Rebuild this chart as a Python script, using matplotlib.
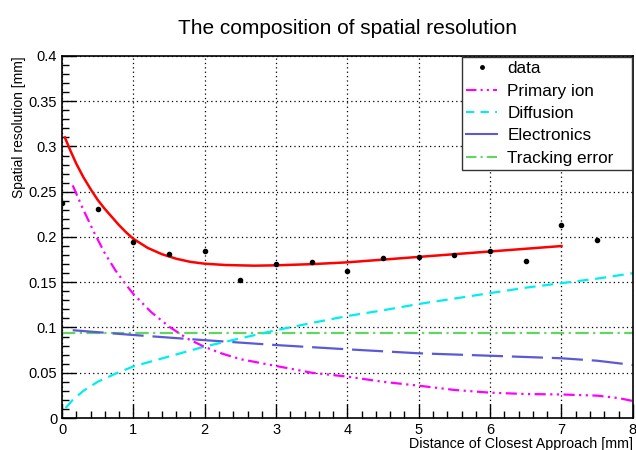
import matplotlib
matplotlib.use("Agg")
import matplotlib.pyplot as plt
from matplotlib.ticker import MultipleLocator, FixedLocator
from matplotlib.lines import Line2D

plt.rcParams['font.family'] = ['Liberation Sans', 'DejaVu Sans']

# data points
data_x = [0, 0.5, 1, 1.5, 2, 2.5, 3, 3.5, 4, 4.5, 5, 5.5, 6, 6.5, 7, 7.5]
data_y = [0.238, 0.231, 0.194, 0.181, 0.184, 0.152, 0.170, 0.172, 0.162,
          0.177, 0.1775, 0.180, 0.1845, 0.173, 0.2136, 0.197]

# total fit curve
fit_x = [0.04, 0.12, 0.2, 0.3, 0.4, 0.5, 0.6, 0.7, 0.8, 0.9, 1.0, 1.2, 1.4, 1.6,
         1.8, 2.0, 2.3, 2.7, 3.0, 3.5, 4.0, 4.5, 5.0, 5.5, 6.0, 6.5, 7.0]
fit_y = [0.310, 0.295, 0.281, 0.266, 0.253, 0.241, 0.231, 0.222, 0.213, 0.205,
         0.198, 0.188, 0.181, 0.176, 0.1725, 0.1705, 0.169, 0.1683, 0.1687,
         0.170, 0.172, 0.175, 0.178, 0.181, 0.184, 0.187, 0.190]

# primary ion
ion_x = [0.15, 0.3, 0.45, 0.6, 0.75, 0.9, 1.0, 1.25, 1.5, 1.75, 2.0, 2.25, 2.5,
         3.0, 3.5, 4.0, 4.5, 5.0, 5.5, 6.0, 6.5, 7.0, 7.5, 7.8, 8.0]
ion_y = [0.257, 0.230, 0.205, 0.182, 0.163, 0.147, 0.137, 0.117, 0.101, 0.088,
         0.0785, 0.071, 0.065, 0.0575, 0.050, 0.0457, 0.040, 0.0357, 0.031,
         0.028, 0.0265, 0.026, 0.0247, 0.022, 0.0188]

# diffusion
dif_x = [0.05, 0.15, 0.3, 0.5, 0.75, 1.0, 1.5, 2.0, 2.5, 3.0, 3.5, 4.0, 4.5, 5.0,
         5.5, 6.0, 6.5, 7.0, 7.5, 8.0]
dif_y = [0.011, 0.020, 0.030, 0.040, 0.049, 0.057, 0.068, 0.079, 0.088, 0.097,
         0.105, 0.1127, 0.119, 0.126, 0.132, 0.138, 0.144, 0.149, 0.154, 0.160]

# electronics
ele_x = [0.15, 1, 2, 3, 4, 5, 6, 7, 7.5, 8]
ele_y = [0.097, 0.0917, 0.086, 0.0806, 0.0759, 0.0715, 0.0688, 0.066, 0.0633, 0.0586]

# tracking error
trk_x = [0, 8]
trk_y = [0.0935, 0.0935]

x_ticks = [0, 1, 2, 3, 4, 5, 6, 7, 8]
y_ticks = [0, 0.05, 0.1, 0.15, 0.2, 0.25, 0.3, 0.35, 0.4]
y_ticklabels = ["0", "0.05", "0.1", "0.15", "0.2", "0.25", "0.3", "0.35", "0.4"]

fig = plt.figure(figsize=(6.36, 4.5), dpi=100)
ax = fig.add_axes([0.0975, 0.0711, 0.8975, 0.8045])

c_ion = '#ff00ff'
c_dif = '#00eeee'
c_ele = '#5a5ad6'
c_trk = '#5fd65f'

ax.plot(trk_x, trk_y, color=c_trk, lw=1.6, ls=(0, (6, 2, 1, 2)))
ax.plot(ele_x, ele_y, color=c_ele, lw=1.6, ls=(0, (14, 4)))
ax.plot(dif_x, dif_y, color=c_dif, lw=1.6, ls=(0, (5, 3)))
ax.plot(ion_x, ion_y, color=c_ion, lw=1.6, ls=(0, (5, 2, 1, 2, 1, 2)))
ax.plot(fit_x, fit_y, color='red', lw=1.8)
ax.plot(data_x, data_y, 'o', color='black', ms=3)

ax.set_xlim(0, 8)
ax.set_ylim(0, 0.4)
ax.xaxis.set_major_locator(FixedLocator(x_ticks))
ax.yaxis.set_major_locator(FixedLocator(y_ticks))
ax.set_yticklabels(y_ticklabels)
ax.xaxis.set_minor_locator(MultipleLocator(0.2))
ax.yaxis.set_minor_locator(MultipleLocator(0.01))
ax.tick_params(which='both', direction='in', top=False, right=False, labelsize=10.5)
ax.tick_params(which='major', length=10, width=1)
ax.tick_params(which='minor', length=5, width=1)
ax.grid(True, which='major', color='black', ls=(0, (1, 2.5)), lw=0.9)
for s in ax.spines.values():
    s.set_linewidth(1.2)

ax.set_title("The composition of spatial resolution", fontsize=15, pad=16)
ax.set_xlabel("Distance of Closest Approach [mm]", fontsize=10.3, loc='right', labelpad=0)
ax.set_ylabel("Spatial resolution [mm]", fontsize=10, loc='top', labelpad=2)

handles = [
    Line2D([], [], marker='o', ls='none', color='black', ms=2.5),
    Line2D([], [], color=c_ion, lw=1.5, ls=(0, (5, 2, 1, 2, 1, 2))),
    Line2D([], [], color=c_dif, lw=1.5, ls=(0, (4, 3))),
    Line2D([], [], color=c_ele, lw=1.5),
    Line2D([], [], color=c_trk, lw=1.5, ls=(0, (5, 2, 1, 2))),
]
labels = ["data", "Primary ion", "Diffusion", "Electronics", "Tracking error"]
leg = ax.legend(handles, labels, loc='upper left', mode='expand',
                bbox_to_anchor=(0.7005, 0.685, 0.2977, 0.312),
                fontsize=12.3, frameon=True, fancybox=False, framealpha=1,
                edgecolor='#333333', handlelength=1.8, borderpad=0.25,
                labelspacing=0.43, handletextpad=0.6, borderaxespad=0)
leg.get_frame().set_linewidth(1.0)

fig.savefig("out.png", dpi=100)
